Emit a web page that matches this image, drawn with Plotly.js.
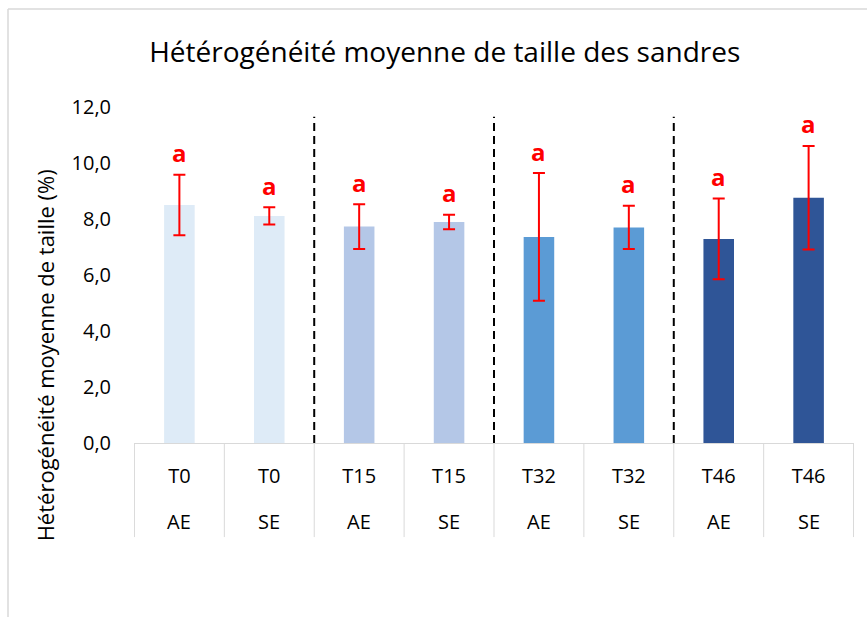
<!DOCTYPE html>
<html>
<head>
<meta charset="utf-8">
<script src="https://cdn.plot.ly/plotly-3.0.1.min.js"></script>
<style>html,body{margin:0;padding:0;background:#fff;}#chart{width:867px;height:617px;}</style>
</head>
<body>
<div id="chart"></div>
<script>
// ---- data ----
const periods    = ["T0", "T0", "T15", "T15", "T32", "T32", "T46", "T46"];
const treatments = ["AE", "SE", "AE", "SE", "AE", "SE", "AE", "SE"];
const means      = [8.50, 8.11, 7.73, 7.89, 7.36, 7.70, 7.29, 8.76];
const errors     = [1.08, 0.31, 0.80, 0.26, 2.28, 0.77, 1.44, 1.85];
const letters    = ["a", "a", "a", "a", "a", "a", "a", "a"];
const barColors  = ["#DEEBF7", "#DEEBF7", "#B4C7E7", "#B4C7E7", "#5B9BD5", "#5B9BD5", "#2F5597", "#2F5597"];
const yTicks     = [0, 2, 4, 6, 8, 10, 12];

const cats = periods.map((p, i) => p + " " + treatments[i]);

const FONT = "'Open Sans', 'Noto Sans', sans-serif";

const trace = {
  type: "bar",
  x: cats,
  y: means,
  width: 0.34,
  marker: { color: barColors, line: { width: 0 } },
  error_y: { type: "data", array: errors, visible: true, color: "#FF0000", thickness: 2, width: 6 },
  hoverinfo: "skip"
};

const annotations = cats.map((c, i) => ({
  x: c, y: means[i] + errors[i], xref: "x", yref: "y",
  text: "<b>" + letters[i] + "</b>", showarrow: false,
  yanchor: "middle", yshift: 22,
  font: { family: FONT, size: 24, color: "#FF0000" }
}));
// second row of the category table
cats.forEach((c, i) => annotations.push({
  x: c, xref: "x", yref: "paper", y: -0.235,
  text: treatments[i], showarrow: false, yanchor: "middle",
  font: { family: FONT, size: 20, color: "#000000" }
}));
annotations.push({
  xref: "paper", yref: "paper", x: -0.124, y: 0.26,
  text: "Hétérogénéité moyenne de taille (%)", textangle: -90, showarrow: false,
  xanchor: "center", yanchor: "middle",
  font: { family: FONT, size: 22, color: "#000000" }
});

const shapes = [];
// group separators (dashed)
[1.5, 3.5, 5.5].forEach(xv => shapes.push({
  type: "line", xref: "x", yref: "y", x0: xv, x1: xv, y0: 0, y1: 11.65,
  line: { color: "#000000", width: 2, dash: "8px,5px" }
}));
// category table dividers
for (let k = 0; k <= cats.length; k++) {
  shapes.push({
    type: "line", xref: "x", yref: "paper", x0: k - 0.5, x1: k - 0.5, y0: 0, y1: -0.28,
    line: { color: "#D9D9D9", width: 1 }
  });
}
// chart frame
shapes.push({ type: "line", xref: "paper", yref: "paper", x0: -0.175, x1: 1.05, y0: 1.2917, y1: 1.2917, line: { color: "#D9D9D9", width: 1.5 } });
shapes.push({ type: "line", xref: "paper", yref: "paper", x0: -0.175, x1: -0.175, y0: 1.2917, y1: -0.55, line: { color: "#D9D9D9", width: 1.5 } });

const layout = {
  width: 867, height: 617,
  margin: { l: 134, r: 13, t: 107, b: 174 },
  paper_bgcolor: "#FFFFFF", plot_bgcolor: "#FFFFFF",
  separators: ", ",
  showlegend: false,
  title: {
    text: "Hétérogénéité moyenne de taille des sandres",
    font: { family: FONT, size: 28, color: "#000000" },
    xref: "container", yref: "container", x: 0.513, y: 0.915, xanchor: "center", yanchor: "middle"
  },
  xaxis: {
    type: "category", range: [-0.505, 7.505],
    tickvals: cats, ticktext: periods,
    ticks: "", showgrid: false, zeroline: false,
    showline: true, linecolor: "#D9D9D9", linewidth: 1,
    ticklabelstandoff: 15,
    tickfont: { family: FONT, size: 20, color: "#000000" }
  },
  yaxis: {
    range: [0, 12], tickvals: yTicks, tickformat: ".1f",
    showgrid: false, zeroline: false, showline: false, ticks: "",
    ticklabelstandoff: 22,
    tickfont: { family: FONT, size: 20, color: "#000000" }
  },
  annotations: annotations,
  shapes: shapes
};

Plotly.newPlot("chart", [trace], layout, { displayModeBar: false, staticPlot: true });
</script>
</body>
</html>
